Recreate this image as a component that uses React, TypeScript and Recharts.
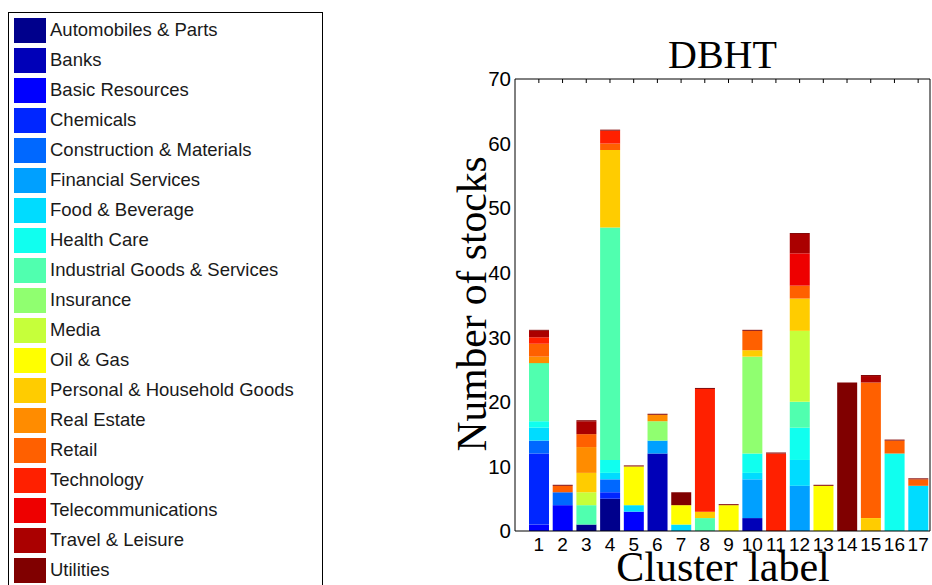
import { BarChart, Bar, XAxis, YAxis, Legend } from 'recharts'

const clusters = ['1', '2', '3', '4', '5', '6', '7', '8', '9', '10', '11', '12', '13', '14', '15', '16', '17']

const sectors = [
  'Automobiles & Parts',
  'Banks',
  'Basic Resources',
  'Chemicals',
  'Construction & Materials',
  'Financial Services',
  'Food & Beverage',
  'Health Care',
  'Industrial Goods & Services',
  'Insurance',
  'Media',
  'Oil & Gas',
  'Personal & Household Goods',
  'Real Estate',
  'Retail',
  'Technology',
  'Telecommunications',
  'Travel & Leisure',
  'Utilities',
]

// jet-like palette, one colour per sector
const sectorColors = [
  '#00008c', '#0000b8', '#0000ff', '#0026ff', '#0068ff', '#00a0ff', '#00dcff',
  '#10ffef', '#50ffaf', '#90ff70', '#c6ff3a', '#ffff00', '#ffcc00', '#ff8c00',
  '#ff6000', '#ff2000', '#ee0000', '#aa0000', '#800000',
]

// stocks per cluster (1..17) for each sector
const automobiles = [0, 0, 1, 5, 0, 0, 0, 0, 0, 0, 0, 0, 0, 0, 0, 0, 0]
const banks = [0, 0, 0, 0, 0, 12, 0, 0, 0, 2, 0, 0, 0, 0, 0, 0, 0]
const basicResources = [1, 4, 0, 0, 3, 0, 0, 0, 0, 0, 0, 0, 0, 0, 0, 0, 0]
const chemicals = [11, 0, 0, 1, 0, 0, 0, 0, 0, 0, 0, 0, 0, 0, 0, 0, 0]
const construction = [2, 2, 0, 2, 0, 0, 0, 0, 0, 0, 0, 0, 0, 0, 0, 0, 0]
const financial = [0, 0, 0, 0, 0, 2, 0, 0, 0, 6, 0, 7, 0, 0, 0, 0, 0]
const foodBeverage = [2, 0, 0, 1, 1, 0, 1, 0, 0, 1, 0, 4, 0, 0, 0, 0, 7]
const healthCare = [1, 0, 0, 2, 0, 0, 0, 0, 0, 3, 0, 5, 0, 0, 0, 12, 0]
const industrial = [9, 0, 3, 36, 0, 0, 0, 2, 0, 0, 0, 4, 0, 0, 0, 0, 0]
const insurance = [0, 0, 0, 0, 0, 3, 0, 0, 0, 15, 0, 0, 0, 0, 0, 0, 0]
const media = [0, 0, 2, 0, 0, 0, 0, 0, 0, 0, 0, 11, 0, 0, 0, 0, 0]
const oilGas = [0, 0, 0, 0, 6, 0, 3, 0, 4, 0, 0, 0, 7, 0, 0, 0, 0]
const personal = [0, 0, 3, 12, 0, 0, 0, 1, 0, 1, 0, 5, 0, 0, 2, 0, 0]
const realEstate = [1, 0, 4, 0, 0, 1, 0, 0, 0, 0, 0, 0, 0, 0, 0, 0, 0]
const retail = [2, 1, 2, 1, 0, 0, 0, 0, 0, 3, 0, 2, 0, 0, 21, 2, 1]
const technology = [1, 0, 0, 2, 0, 0, 0, 19, 0, 0, 12, 0, 0, 0, 0, 0, 0]
const telecom = [0, 0, 0, 0, 0, 0, 0, 0, 0, 0, 0, 5, 0, 0, 0, 0, 0]
const travel = [1, 0, 2, 0, 0, 0, 0, 0, 0, 0, 0, 3, 0, 0, 1, 0, 0]
const utilities = [0, 0, 0, 0, 0, 0, 2, 0, 0, 0, 0, 0, 0, 23, 0, 0, 0]

const sectorValues = [
  automobiles, banks, basicResources, chemicals, construction, financial,
  foodBeverage, healthCare, industrial, insurance, media, oilGas, personal,
  realEstate, retail, technology, telecom, travel, utilities,
]

const yTicks = [0, 10, 20, 30, 40, 50, 60, 70]

const chartData = clusters.map((c, i) => {
  const row: any = { c }
  sectors.forEach((s, k) => {
    row[s] = sectorValues[k][i]
  })
  return row
})

const sans = '"Liberation Sans", Arial, sans-serif'
const serif = '"Liberation Serif", "Times New Roman", serif'

function SectorLegend() {
  return (
    <div
      style={{
        boxSizing: 'border-box',
        width: 315,
        height: 600,
        border: '1.3px solid #000',
        background: '#fff',
        padding: '2px 0 0 5px',
      }}
    >
      {sectors.map((s, k) => (
        <div key={s} style={{ display: 'flex', alignItems: 'center', height: 30 }}>
          <span
            style={{ width: 32, height: 25, background: sectorColors[k], display: 'inline-block', marginRight: 4 }}
          />
          <span style={{ fontFamily: sans, fontSize: 18.5, color: '#1a1a1a', whiteSpace: 'nowrap' }}>{s}</span>
        </div>
      ))}
    </div>
  )
}

export default function App() {
  return (
    <div style={{ position: 'absolute', left: 0, top: 0, width: 932, height: 585, overflow: 'hidden', background: '#fff' }}>
      <BarChart
        width={932}
        height={585}
        data={chartData}
        margin={{ top: 79, right: 2, bottom: 0, left: 0 }}
        barSize={20}
      >
        <XAxis
          xAxisId="b"
          dataKey="c"
          height={54}
          padding={{ left: 12, right: 0 }}
          tickLine={false}
          tickSize={0}
          tickMargin={7}
          interval={0}
          axisLine={{ stroke: '#000' }}
          tick={{ fill: '#000', fontFamily: sans, fontSize: 19 }}
        />
        <XAxis
          xAxisId="t"
          dataKey="c"
          orientation="top"
          mirror
          padding={{ left: 12, right: 0 }}
          interval={0}
          tickSize={4}
          tickFormatter={() => ''}
          tickLine={{ stroke: '#000' }}
          axisLine={{ stroke: '#000' }}
        />
        <YAxis
          yAxisId="l"
          width={515}
          domain={[0, 70]}
          ticks={yTicks}
          tickLine={false}
          tickSize={0}
          tickMargin={4}
          axisLine={{ stroke: '#000' }}
          tick={{ fill: '#000', fontFamily: sans, fontSize: 20.5 }}
        />
        <YAxis
          yAxisId="lm"
          mirror
          domain={[0, 70]}
          ticks={yTicks}
          tickSize={4}
          tickFormatter={() => ''}
          tickLine={{ stroke: '#000' }}
          axisLine={false}
        />
        <YAxis
          yAxisId="r"
          orientation="right"
          mirror
          domain={[0, 70]}
          ticks={yTicks}
          tickSize={4}
          tickFormatter={() => ''}
          tickLine={{ stroke: '#000' }}
          axisLine={{ stroke: '#000' }}
        />
        {sectors.map((s, k) => (
          <Bar
            key={s}
            dataKey={s}
            stackId="a"
            xAxisId="b"
            yAxisId="l"
            fill={sectorColors[k]}
            minPointSize={k === sectors.length - 1 ? 1 : 0}
            isAnimationActive={false}
          />
        ))}
        <Legend
          layout="horizontal"
          verticalAlign="middle"
          align="center"
          content={() => <SectorLegend />}
          wrapperStyle={{ left: 8, top: 12, width: 315, height: 600 }}
        />
        <text x={722.5} y={68} textAnchor="middle" fontFamily={serif} fontSize={40} fill="#000">
          DBHT
        </text>
        <text
          transform="translate(486, 304) rotate(-90)"
          textAnchor="middle"
          fontFamily={serif}
          fontSize={41.5}
          fill="#000"
        >
          Number of stocks
        </text>
        <text x={723} y={581} textAnchor="middle" fontFamily={serif} fontSize={42} fill="#000">
          Cluster label
        </text>
      </BarChart>
    </div>
  )
}
